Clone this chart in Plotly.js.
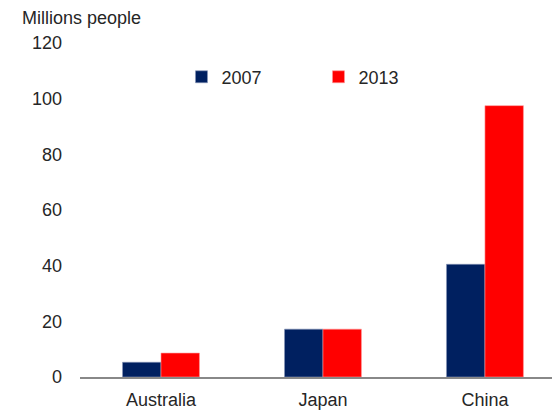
<!DOCTYPE html>
<html>
<head>
<meta charset="utf-8">
<script src="https://cdn.plot.ly/plotly-3.0.1.min.js"></script>
<style>html,body{margin:0;padding:0;background:#fff;}#chart{width:552px;height:411px;}</style>
</head>
<body>
<div id="chart"></div>
<script>
const categories = ["Australia", "Japan", "China"];
const values2007 = [5.3, 17.2, 40.5];
const values2013 = [8.6, 17.2, 97.5];
const seriesNames = ["2007", "2013"];
const yTicks = [0, 20, 40, 60, 80, 100, 120];

const font = {family: "Liberation Sans, Arial, sans-serif", size: 18, color: "#262626"};

const traces = [
  {type: "bar", name: seriesNames[0], x: categories, y: values2007,
   marker: {color: "#002060", line: {color: "#8a97b8", width: 0.6}}},
  {type: "bar", name: seriesNames[1], x: categories, y: values2013,
   marker: {color: "#ff0000", line: {color: "#ff9a9a", width: 0.6}}}
];

const layout = {
  width: 552, height: 411,
  margin: {l: 80, r: 0, t: 43, b: 33.5, pad: 0},
  paper_bgcolor: "#fff", plot_bgcolor: "#fff",
  font: font,
  barmode: "group", bargap: 0.525, bargroupgap: 0,
  showlegend: true,
  legend: {orientation: "h", x: 0.215, y: 0.898, xanchor: "left", yanchor: "middle",
           entrywidth: 92, entrywidthmode: "pixels", itemwidth: 30,
           font: font, bgcolor: "rgba(0,0,0,0)", traceorder: "normal"},
  xaxis: {type: "category", range: [-0.5, 2.414], showgrid: false, zeroline: false,
          showline: true, linecolor: "#888888", linewidth: 2, ticks: "",
          ticklabelstandoff: 5, tickfont: font, fixedrange: true},
  yaxis: {range: [0, 120], tickvals: yTicks, ticktext: yTicks.map(String),
          showgrid: false, zeroline: false, showline: false, ticks: "",
          ticklabelstandoff: 17, tickfont: font, fixedrange: true},
  annotations: [{text: "Millions people", xref: "paper", yref: "paper",
                 x: -60/472, y: 1 + 25/334.5, xanchor: "left", yanchor: "middle",
                 showarrow: false, font: font}]
};

Plotly.newPlot("chart", traces, layout, {displayModeBar: false, staticPlot: true});
</script>
</body>
</html>
